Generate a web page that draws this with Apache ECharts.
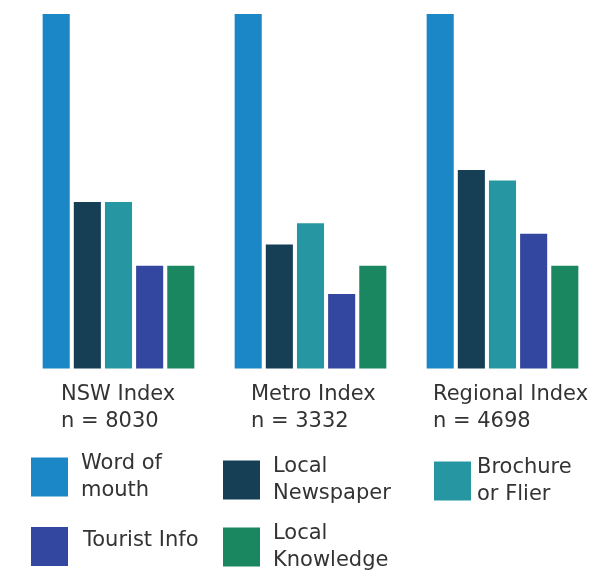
<!DOCTYPE html>
<html>
<head>
<meta charset="utf-8">
<script src="https://cdn.jsdelivr.net/npm/echarts@6/dist/echarts.min.js"></script>
<style>
  html, body { margin: 0; padding: 0; background: #ffffff; }
  #chart { width: 615px; height: 576px; }
</style>
</head>
<body>
<div id="chart"></div>
<script>
// Index groups and their sample sizes
const groups = ['NSW Index', 'Metro Index', 'Regional Index'];
const sampleSizes = ['n = 8030', 'n = 3332', 'n = 4698'];

// Information source values per group
const wordOfMouth = [100, 100, 100];
const localNewspaper = [47, 35, 56];
const brochure = [47, 41, 53];
const touristInfo = [29, 21, 38];
const localKnowledge = [29, 29, 29];

const seriesNames = ['Word of mouth', 'Local Newspaper', 'Brochure or Flier', 'Tourist Info', 'Local Knowledge'];
const legendLabels = ['Word of\nmouth', 'Local\nNewspaper', 'Brochure\nor Flier', 'Tourist Info', 'Local\nKnowledge'];
const seriesValues = [wordOfMouth, localNewspaper, brochure, touristInfo, localKnowledge];
const colors = ['#1c87c6', '#163f56', '#2697a2', '#3347a0', '#1b8760'];

const FONT = '"DejaVu Sans", sans-serif';
const FONT_SIZE = 21;
const TEXT_COLOR = '#333333';

const chart = echarts.init(document.getElementById('chart'), null, { renderer: 'canvas' });

// Legend blocks: one legend per source so each can sit in its own cell
const legendCells = [
  { left: 31, top: 450, pad: 8, lift: 0 },
  { left: 223, top: 453, pad: 8, lift: 0 },
  { left: 434, top: 454, pad: 1, lift: 0 },
  { left: 31, top: 527, pad: 10, lift: 12 },
  { left: 223, top: 520, pad: 8, lift: 0 }
];

const legends = seriesNames.map((name, i) => ({
  data: [name],
  left: legendCells[i].left,
  top: legendCells[i].top,
  padding: 0,
  itemWidth: 37,
  itemHeight: 39,
  icon: 'rect',
  selectedMode: false,
  formatter: () => '{t|' + legendLabels[i].split('\n').join('}\n{t|') + '}',
  textStyle: {
    fontFamily: FONT,
    fontSize: FONT_SIZE,
    lineHeight: 27,
    color: TEXT_COLOR,
    rich: {
      t: {
        fontFamily: FONT,
        fontSize: FONT_SIZE,
        lineHeight: 27,
        color: TEXT_COLOR,
        padding: [0, 0, legendCells[i].lift, legendCells[i].pad]
      }
    }
  }
}));

// Group captions beneath each cluster of bars
const captionLeft = [61, 251, 433];
const captions = groups.map((g, i) => ({
  type: 'text',
  left: captionLeft[i],
  top: 381,
  style: {
    text: g + '\n' + sampleSizes[i],
    font: FONT_SIZE + 'px ' + FONT,
    lineHeight: 27,
    fill: TEXT_COLOR
  }
}));

chart.setOption({
  animation: false,
  backgroundColor: '#ffffff',
  color: colors,
  grid: { left: 22.5, right: 16.5, top: 14, bottom: 207.5, containLabel: false },
  xAxis: {
    type: 'category',
    data: groups,
    axisLine: { show: false },
    axisTick: { show: false },
    axisLabel: { show: false }
  },
  yAxis: {
    type: 'value',
    min: 0,
    max: 100,
    show: false
  },
  legend: legends,
  graphic: captions,
  series: seriesNames.map((name, i) => ({
    name: name,
    type: 'bar',
    data: seriesValues[i],
    barGap: '15%',
    barCategoryGap: '21%',
    itemStyle: { color: colors[i] }
  }))
});
</script>
</body>
</html>
